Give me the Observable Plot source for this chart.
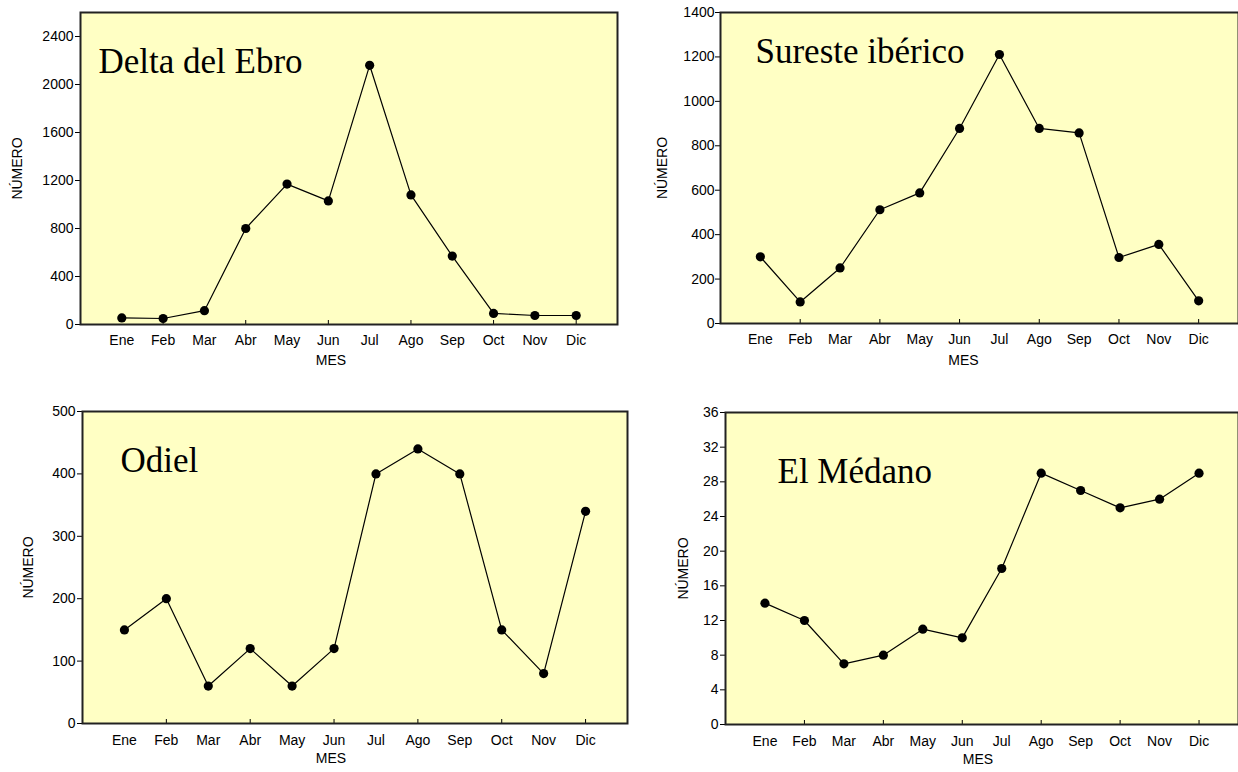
<!DOCTYPE html>
<html>
<head>
<meta charset="utf-8">
<script src="https://cdn.jsdelivr.net/npm/d3@7"></script>
<script src="https://cdn.jsdelivr.net/npm/@observablehq/plot@0.6"></script>
<style>
  html, body { margin: 0; padding: 0; background: #fff; }
  #root { position: relative; width: 1238px; height: 772px; overflow: hidden; }
</style>
</head>
<body>
<div id="root"></div>
<script>
const months = ["Ene","Feb","Mar","Abr","May","Jun","Jul","Ago","Sep","Oct","Nov","Dic"];
const ebro    = [55, 50, 115, 800, 1170, 1030, 2160, 1080, 570, 92, 75, 75];
const sureste = [300, 97, 250, 512, 588, 878, 1211, 878, 858, 297, 356, 102];
const odiel   = [150, 200, 60, 120, 60, 120, 400, 440, 400, 150, 80, 340];
const medano  = [14, 12, 7, 8, 11, 10, 18, 29, 27, 25, 26, 29];

const ebroTicks    = [0, 400, 800, 1200, 1600, 2000, 2400];
const suresteTicks = [0, 200, 400, 600, 800, 1000, 1200, 1400];
const odielTicks   = [0, 100, 200, 300, 400, 500];
const medanoTicks  = [0, 4, 8, 12, 16, 20, 24, 28, 32, 36];

const titles = ["Delta del Ebro", "Sureste ibérico", "Odiel", "El Médano"];
const yLabel = "NÚMERO";
const xLabel = "MES";

const monthIdx = months.map((m, i) => i + 1);
const evenIdx = monthIdx.filter(i => i % 2 === 0);

const FILL = "#FFFFC4";
const SANS = "'Liberation Sans', Arial, sans-serif";
const SERIF = "'Liberation Serif', 'Times New Roman', serif";

function panel(cfg) {
  const data = cfg.values.map((v, i) => ({m: i + 1, v}));
  const p = Plot.plot({
    width: cfg.width,
    height: cfg.height,
    marginLeft: cfg.ml, marginRight: cfg.mr, marginTop: cfg.mt, marginBottom: cfg.mb,
    style: {fontFamily: SANS, fontSize: "14px", background: "transparent", overflow: "visible"},
    x: {domain: [0, 13], axis: null},
    y: {domain: [0, cfg.ymax], axis: null},
    marks: [
      Plot.frame({fill: FILL, stroke: null}),
      Plot.axisY(cfg.ticks, {tickSize: 5, tickPadding: cfg.tp, tickFormat: d => String(d), label: null, fontSize: 14}),
      Plot.axisX(monthIdx, {tickSize: 0, tickPadding: cfg.xp, tickFormat: i => months[i - 1], label: null, fontSize: 14}),
      Plot.axisX(evenIdx, {tickSize: 4, dy: -4, tickFormat: () => "", label: null}),
      Plot.line(data, {x: "m", y: "v", stroke: "black", strokeWidth: 1.2}),
      Plot.dot(data, {x: "m", y: "v", r: 4.6, fill: "black", stroke: "none"}),
      Plot.frame({stroke: "#222", strokeWidth: 2}),
      Plot.text([cfg.title], {frameAnchor: "top-left", dx: cfg.tdx, dy: cfg.tdy, textAnchor: "start",
        lineAnchor: "bottom", fontFamily: SERIF, fontSize: 35, fill: "black"}),
      Plot.text([yLabel], {frameAnchor: "left", dx: cfg.ydx, rotate: -90, textAnchor: "middle",
        fontSize: 14, fill: "black"}),
      Plot.text([xLabel], {frameAnchor: "bottom", dx: cfg.xdx, dy: cfg.xdy, textAnchor: "middle",
        fontSize: 14, fill: "black"})
    ]
  });
  p.style.left = cfg.left + "px";
  p.style.top = cfg.top + "px";
  p.style.position = "absolute";
  document.getElementById("root").appendChild(p);
}

panel({values: ebro, ticks: ebroTicks, ymax: 2600, title: titles[0],
  left: 0, top: 0, width: 640, height: 386, ml: 80, mr: 23, mt: 12, mb: 62,
  tp: 2, xp: 11, tdx: 18, tdy: 60, ydx: -63, xdx: -18, xdy: 40});

panel({values: sureste, ticks: suresteTicks, ymax: 1400, title: titles[1],
  left: 640, top: 0, width: 598, height: 386, ml: 80, mr: 0, mt: 12, mb: 63,
  tp: 1, xp: 11, tdx: 35, tdy: 50, ydx: -58, xdx: -16, xdy: 41});

panel({values: odiel, ticks: odielTicks, ymax: 500, title: titles[2],
  left: 0, top: 386, width: 640, height: 386, ml: 82, mr: 13, mt: 25, mb: 49,
  tp: 2, xp: 12, tdx: 38, tdy: 60, ydx: -54, xdx: -24, xdy: 39});

panel({values: medano, ticks: medanoTicks, ymax: 36, title: titles[3],
  left: 640, top: 386, width: 598, height: 386, ml: 85, mr: 0, mt: 26, mb: 48,
  tp: 2, xp: 12, tdx: 52, tdy: 70, ydx: -42, xdx: -4, xdy: 39});
</script>
</body>
</html>
